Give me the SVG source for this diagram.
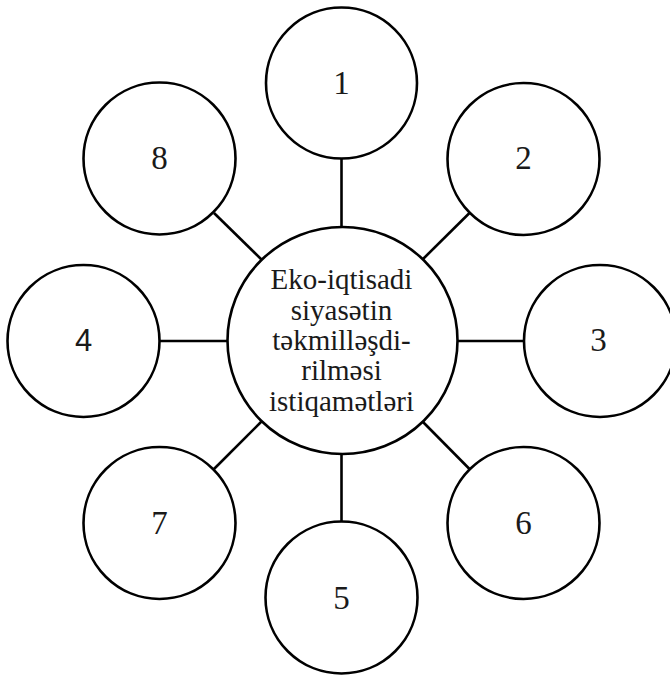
<svg xmlns="http://www.w3.org/2000/svg" width="670" height="677" viewBox="0 0 670 677">
<style>
.c{fill:#fff;stroke:#000;stroke-width:2.6}
.l{stroke:#000;stroke-width:2.6;fill:none}
.n{font-family:"Liberation Serif","Times New Roman",serif;font-size:33px;text-anchor:middle;fill:#1a1a1a}
.ns{font-family:"Liberation Sans",Arial,sans-serif;font-size:31px;text-anchor:middle;fill:#1a1a1a}
.t{font-family:"Liberation Serif","Times New Roman",serif;font-size:29px;text-anchor:middle;fill:#1a1a1a}
</style>
<rect width="670" height="677" fill="#fff"/>
<g id="connectors">
<line class="l" x1="341.5" y1="158" x2="341.5" y2="227"/>
<line class="l" x1="341.5" y1="454" x2="341.5" y2="522"/>
<line class="l" x1="160" y1="341" x2="228" y2="341"/>
<line class="l" x1="456" y1="341" x2="524" y2="341"/>
<line class="l" x1="214" y1="213" x2="262" y2="260"/>
<line class="l" x1="469.5" y1="213" x2="422" y2="260"/>
<line class="l" x1="214" y1="469" x2="262" y2="421"/>
<line class="l" x1="469.5" y1="469" x2="422" y2="421"/>
</g>
<g id="center">
<ellipse class="c" cx="342.5" cy="340.5" rx="115" ry="113.5"/>
<text class="t" x="341.5" y="288.5">Eko-iqtisadi</text>
<text class="t" x="341.5" y="319.5">siyasətin</text>
<text class="t" x="341.5" y="350">təkmilləşdi-</text>
<text class="t" x="341.5" y="380">rilməsi</text>
<text class="t" x="341.5" y="410.5">istiqamətləri</text>
</g>
<g id="n1"><circle class="c" cx="341.5" cy="83" r="75.5"/><text class="n" x="341.5" y="94">1</text></g>
<g id="n2"><circle class="c" cx="523.5" cy="159" r="76"/><text class="n" x="523.5" y="168.5">2</text></g>
<g id="n3"><circle class="c" cx="600" cy="341" r="76"/><text class="n" x="598.5" y="351">3</text></g>
<g id="n4"><circle class="c" cx="83.5" cy="341" r="76"/><text class="ns" x="83.5" y="351">4</text></g>
<g id="n5"><circle class="c" cx="341.5" cy="597.5" r="76"/><text class="n" x="341.5" y="608.5">5</text></g>
<g id="n6"><circle class="c" cx="523.5" cy="523" r="76"/><text class="n" x="523.5" y="533.5">6</text></g>
<g id="n7"><circle class="c" cx="159.5" cy="523" r="76"/><text class="n" x="159.5" y="533.5">7</text></g>
<g id="n8"><circle class="c" cx="159.5" cy="158.5" r="76"/><text class="n" x="159.5" y="168.5">8</text></g>
</svg>
